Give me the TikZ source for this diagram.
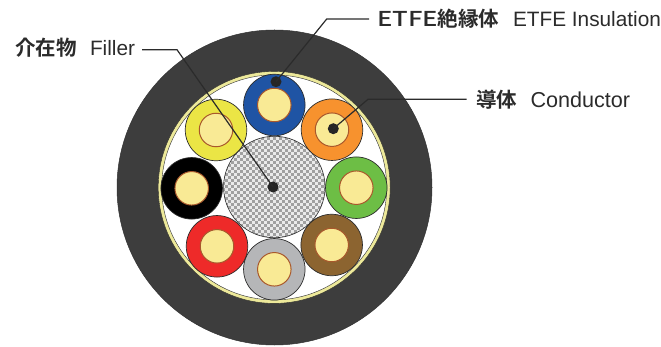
\documentclass[tikz,border=0pt]{standalone}
\usepackage{fontspec}
\setmainfont{Liberation Sans}
\newfontfamily\cjkbold{Noto Sans CJK JP Bold}
\newfontfamily\cjkmed{Noto Sans CJK JP Medium}
\definecolor{inkc}{HTML}{2B2B2B}
\definecolor{jacketc}{HTML}{3D3D3D}
\definecolor{ringc}{HTML}{EDE99A}
\definecolor{corec}{HTML}{F9EA95}
\definecolor{coreedge}{HTML}{A9582C}
\definecolor{wblue}{HTML}{1F54A4}
\definecolor{worange}{HTML}{F7922E}
\definecolor{wgreen}{HTML}{6DBE45}
\definecolor{wbrown}{HTML}{8C6430}
\definecolor{wgray}{HTML}{B5B6B8}
\definecolor{wred}{HTML}{EE2A29}
\definecolor{wyellow}{HTML}{EBE545}
\definecolor{fillerdot}{HTML}{A0A0A0}
\definecolor{fillerbg}{HTML}{EAEAEA}
\tikzset{
  wire/.style={circle,draw=inkc,line width=0.7pt,minimum size=61.5pt,inner sep=0pt,outer sep=0pt},
  core/.style={circle,draw=coreedge,line width=1pt,fill=corec,minimum size=33.5pt,inner sep=0pt,outer sep=0pt},
  leader/.style={draw=inkc,line width=1.2pt},
  pin/.style={circle,fill=black!85,minimum size=11pt,inner sep=0pt,outer sep=0pt},
  lab/.style={text=inkc,font=\fontsize{20.8}{22}\selectfont,inner sep=0pt,outer sep=0pt,anchor=base west},
  jp/.style={text=inkc,font=\cjkbold\fontsize{20.5}{22}\selectfont,inner sep=0pt,outer sep=0pt,anchor=base west}
}
\newcommand{\etfeword}{{\cjkmed\scalebox{1.25}[1]{ETFE}}}
\begin{document}
\begin{tikzpicture}[x=1pt,y=-1pt]
\useasboundingbox (0,0) rectangle (661,347);
% cable body
\node[circle,draw=black!80,line width=0.5pt,fill=jacketc,minimum size=315pt,inner sep=0pt] (jacket) at (274.5,187.5) {};
\node[circle,draw=inkc,line width=0.4pt,fill=ringc,minimum size=232pt,inner sep=0pt] (ring) at (274.2,187.4) {};
\node[circle,draw=inkc,line width=0.4pt,fill=white,minimum size=225pt,inner sep=0pt] (bore) at (274.2,187.4) {};
% filler
\node[circle,draw=inkc,line width=0.6pt,fill=fillerbg,minimum size=101.5pt,inner sep=0pt,
  path picture={
    \foreach \i in {0,...,18}{
      \foreach \j in {0,...,37}{
        \pgfmathsetmacro{\px}{-54.3+\i*6+mod(\j,2)*3}
        \pgfmathsetmacro{\py}{-54+\j*3}
        \fill[fillerdot] (\px-1.5,\py-1.5) rectangle (\px+1.5,\py+1.5);
      }
    }
  }] (filler) at (274.3,187) {};
% insulated conductors
\node[wire,fill=wblue] (w1) at (274.3,105) {};
\node[core] (c1) at (w1.center) {};
\node[wire,fill=worange] (w2) at (332,129.7) {};
\node[core] (c2) at (w2.center) {};
\node[wire,fill=wgreen] (w3) at (356.3,187.7) {};
\node[core] (c3) at (w3.center) {};
\node[wire,fill=wbrown] (w4) at (331.7,245) {};
\node[core] (c4) at (w4.center) {};
\node[wire,fill=wgray] (w5) at (274.3,269.3) {};
\node[core] (c5) at (w5.center) {};
\node[wire,fill=wred] (w6) at (217,246.3) {};
\node[core] (c6) at (w6.center) {};
\node[wire,fill=black] (w7) at (191.7,188.3) {};
\node[core] (c7) at (w7.center) {};
\node[wire,fill=wyellow] (w8) at (216,130) {};
\node[core] (c8) at (w8.center) {};
% labels
\node[jp] (tf) at (15,56) {介在物};
\node[lab] (lf) at (90,56) {Filler};
\node[jp] (te) at (377,27) {\etfeword 絶縁体};
\node[lab] (le) at (513,27) {ETFE Insulation};
\node[jp] (tc) at (476,108) {導体};
\node[lab,font=\fontsize{21.6}{22}\selectfont] (lc) at (530.5,108) {Conductor};
% pins
\node[pin] (pf) at (273,187) {};
\node[pin] (pe) at (276,81.7) {};
\node[pin] (pc) at (333.3,128.7) {};
% leaders
\coordinate (sf) at (142,49.7);
\coordinate (bf) at (177,49.7);
\coordinate (se) at (369,19);
\coordinate (be) at (326.7,19);
\coordinate (sc) at (466.7,99.3);
\coordinate (bc) at (368,99.3);
\draw[leader] (sf) -- (bf) -- (pf.center);
\draw[leader] (se) -- (be) -- (pe.center);
\draw[leader] (sc) -- (bc) -- (pc.center);
\end{tikzpicture}
\end{document}
